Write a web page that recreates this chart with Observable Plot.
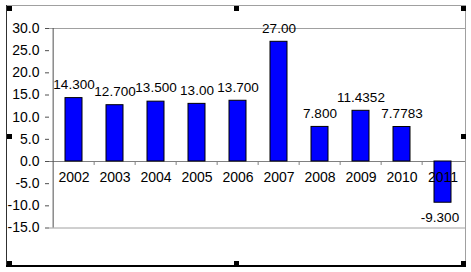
<!DOCTYPE html>
<html>
<head>
<meta charset="utf-8">
<script src="https://cdn.jsdelivr.net/npm/d3@7"></script>
<script src="https://cdn.jsdelivr.net/npm/@observablehq/plot@0.6"></script>
<style>
  html, body { margin: 0; padding: 0; background: #fff; }
  #wrap { position: relative; width: 471px; height: 272px; overflow: hidden; background: #fff; }
  #wrap svg { position: absolute; left: 0; top: 0; }
  .deco { position: absolute; }
</style>
</head>
<body>
<div id="wrap"></div>
<script>
const years = ["2002", "2003", "2004", "2005", "2006", "2007", "2008", "2009", "2010", "2011"];
const values = [14.3, 12.7, 13.5, 13.0, 13.7, 27.0, 7.8, 11.4352, 7.7783, -9.3];
const valueLabels = ["14.300", "12.700", "13.500", "13.00", "13.700", "27.00", "7.800", "11.4352", "7.7783", "-9.300"];
const yTicks = [-15, -10, -5, 0, 5, 10, 15, 20, 25, 30];

const data = years.map((year, i) => ({year, value: values[i], label: valueLabels[i]}));

const chart = Plot.plot({
  width: 471,
  height: 272,
  marginLeft: 49,
  marginRight: 5,
  marginTop: 28,
  marginBottom: 44.5,
  style: {fontFamily: "'Liberation Sans', Arial, sans-serif", fontSize: "14px", background: "transparent", overflow: "visible", color: "black"},
  x: {domain: years, paddingInner: 0.59, paddingOuter: 0.295, axis: null},
  y: {domain: [-15, 30], axis: null},
  marks: [
    Plot.ruleY([30, -15], {stroke: "#a0a0a0"}),
    Plot.ruleY([0], {stroke: "#808080"}),
    Plot.ruleX(years.slice(1), {x: d => d, y1: () => 0, y2: () => -0.9, dx: -20.85, stroke: "#808080"}),
    Plot.ruleX([years[0]], {x: d => d, y1: () => -15, y2: () => 30, dx: -20.85, stroke: "#505050"}),
    Plot.axisY({ticks: yTicks, label: null, tickSize: 4, tickPadding: 6, tickFormat: d => d.toFixed(1), fontSize: 14, fill: "black", stroke: "#505050"}),
    Plot.barY(data, {x: "year", y: "value", fill: "#0000ff", stroke: "black", strokeWidth: 1}),
    Plot.text(data.filter(d => d.value >= 0), {x: "year", y: "value", text: "label", dy: -13.5, fontSize: 13.5, fill: "black"}),
    Plot.text(data.filter(d => d.value < 0), {x: "year", y: "value", text: "label", dy: 15, dx: -3, fontSize: 13.5, fill: "black"}),
    Plot.text(years, {x: d => d, y: () => 0, text: d => d, dy: 16, fontSize: 14, fill: "black"})
  ]
});

const wrap = document.getElementById("wrap");
wrap.appendChild(chart);

// decorative frame (selected chart object look)
function deco(left, top, w, h, color) {
  const d = document.createElement("div");
  d.className = "deco";
  d.style.left = left + "px"; d.style.top = top + "px";
  d.style.width = w + "px"; d.style.height = h + "px";
  d.style.background = color;
  wrap.appendChild(d);
}
deco(6, 5, 460, 1, "#a0a0a0");   // top border
deco(465, 5, 1, 262, "#a0a0a0"); // right border
deco(6, 5, 1, 262, "#303030");   // left border
deco(6, 265, 460, 2, "#000");    // bottom border
const hs = [[7,6],[234,6],[461,6],[7,134],[461,134],[7,261],[234,261],[461,261]];
hs.forEach(([x, y]) => deco(x, y, 5, 5, "#000"));
</script>
</body>
</html>
